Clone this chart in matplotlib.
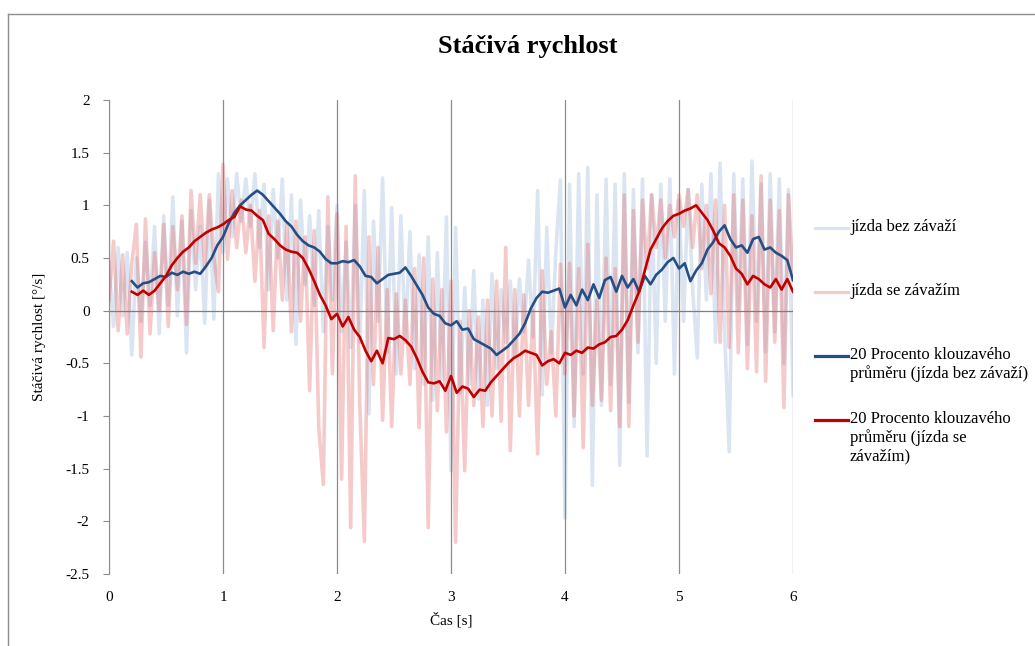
import numpy as np
import matplotlib
matplotlib.use('Agg')
import matplotlib.pyplot as plt
from matplotlib.lines import Line2D
from matplotlib.ticker import FuncFormatter

plt.rcParams['font.family'] = ['Liberation Serif', 'DejaVu Serif']
plt.rcParams['axes.unicode_minus'] = False

# raw yaw-rate samples, every 0.04 s (0 .. 6 s)
raw_bez = [
    0.45, -0.15, 0.60, -0.05, 0.55, -0.42, 0.50, -0.10, 0.65, 0.05,
    0.80, -0.22, 0.90, 0.05, 1.08, -0.05, 0.85, -0.40, 0.95, 0.20,
    0.80, -0.12, 1.05, -0.08, 1.30, 0.55, 1.25, 0.70, 1.30, 0.85,
    1.25, 0.80, 1.30, 0.60, 1.20, 0.20, 1.15, 0.50, 1.25, 0.10,
    1.10, -0.32, 1.05, 0.25, 0.90, 0.05, 0.95, -0.20, 0.80, 0.10,
    1.00, -0.20, 0.65, -0.35, 1.00, -0.30, 1.14, -0.98, 0.85, -0.10,
    1.26, -0.40, 0.98, -0.60, 0.90, -0.30, 0.75, -0.55, 0.53, -0.70,
    0.70, -0.85, 0.55, -0.65, 0.89, -1.52, 0.79, -0.78, 0.22, -0.70,
    0.38, -0.84, 0.10, -0.90, 0.35, -0.55, 0.20, -0.30, 0.28, -0.45,
    0.30, -0.20, 0.48, -0.25, 1.14, -0.80, 0.79, -0.40, 0.57, 1.24,
    -1.97, 1.20, -1.10, 1.30, -0.60, 1.36, -1.66, 1.10, -0.90, 1.25,
    -0.70, 1.20, -1.47, 1.30, -0.87, 1.15, -0.40, 1.25, -1.38, 1.10,
    -0.50, 1.20, -0.10, 1.25, -0.60, 1.05, -0.10, 1.15, 0.20, -0.45,
    1.20, 0.10, 1.30, -0.30, 1.40, -0.20, -1.34, 1.30, 0.00, 1.25,
    -0.32, 1.42, -0.10, 1.20, -0.39, 1.30, -0.20, 1.25, -0.50, 1.15,
    -0.80,
]
raw_se = [
    0.10, 0.66, -0.19, 0.53, -0.22, 0.45, 0.82, -0.44, 0.87, -0.22,
    0.55, 0.00, 0.82, -0.15, 0.80, 0.20, 0.90, -0.13, 1.14, 0.45,
    1.10, 0.40, 1.10, 0.50, 0.18, 1.39, 0.49, 1.14, 0.60, 1.05,
    0.55, 1.00, 0.28, 0.95, -0.35, 0.90, -0.19, 0.85, 0.10, 0.82,
    -0.20, 0.85, -0.10, 0.70, -0.76, 0.76, -1.11, -1.65, 1.08, -0.60,
    0.92, -1.60, 0.80, -2.06, 1.28, -0.90, -2.19, 0.70, -0.70, 0.60,
    -1.04, 0.20, -1.10, 0.16, -0.60, 0.10, -0.70, 0.40, -1.11, 0.50,
    -2.06, 0.30, -0.95, 0.20, -1.15, 0.28, -2.20, -0.10, -1.52, 0.00,
    -0.90, -0.06, -1.10, 0.10, -1.00, 0.28, -1.05, 0.60, -1.33, 0.20,
    -1.00, 0.15, -0.90, 0.00, -1.36, 0.38, -0.70, -0.20, -1.00, 0.44,
    -0.60, 0.45, -1.00, 0.40, -1.30, 0.63, -0.90, 0.10, -0.85, 0.50,
    -0.95, 0.40, -1.10, 1.10, -1.10, 0.95, -0.30, 1.05, 0.40, 1.10,
    0.60, 1.05, 0.50, 1.00, 0.70, 1.10, 0.80, 1.15, 0.60, 1.10,
    0.40, 1.00, 0.16, 1.05, -0.30, 1.00, -0.35, 1.10, -0.40, 1.05,
    -0.55, 0.90, -0.58, 1.28, -0.67, 1.05, -0.30, 0.95, -0.92, 1.10,
    0.30,
]

# 20-point moving averages, read every 0.05 s (0.2 .. 6 s)
ma_bez = [
    0.28, 0.22, 0.26, 0.27, 0.30, 0.33, 0.32, 0.36, 0.34, 0.37,
    0.35, 0.37, 0.35, 0.42, 0.50, 0.62, 0.70, 0.83, 0.93, 1.00,
    1.05, 1.10, 1.14, 1.10, 1.04, 0.98, 0.92, 0.85, 0.80, 0.72,
    0.66, 0.62, 0.60, 0.56, 0.49, 0.45, 0.45, 0.47, 0.46, 0.48,
    0.42, 0.33, 0.32, 0.26, 0.30, 0.34, 0.35, 0.36, 0.41, 0.33,
    0.24, 0.15, 0.03, -0.03, -0.05, -0.12, -0.14, -0.10, -0.18, -0.17,
    -0.27, -0.30, -0.33, -0.36, -0.42, -0.38, -0.34, -0.28, -0.22, -0.12,
    0.02, 0.12, 0.18, 0.17, 0.19, 0.21, 0.03, 0.15, 0.05, 0.20,
    0.10, 0.25, 0.12, 0.29, 0.32, 0.18, 0.33, 0.22, 0.30, 0.18,
    0.33, 0.25, 0.34, 0.39, 0.46, 0.50, 0.40, 0.45, 0.28, 0.38,
    0.45, 0.58, 0.65, 0.75, 0.81, 0.68, 0.60, 0.62, 0.55, 0.68,
    0.70, 0.58, 0.60, 0.55, 0.52, 0.48, 0.29,
]
ma_se = [
    0.18, 0.15, 0.19, 0.15, 0.19, 0.26, 0.33, 0.43, 0.50, 0.56,
    0.60, 0.66, 0.70, 0.74, 0.77, 0.79, 0.82, 0.86, 0.89, 0.99,
    0.96, 0.95, 0.90, 0.86, 0.73, 0.68, 0.62, 0.58, 0.56, 0.55,
    0.50, 0.40, 0.28, 0.15, 0.05, -0.08, -0.03, -0.15, -0.06, -0.18,
    -0.25, -0.38, -0.48, -0.38, -0.50, -0.26, -0.27, -0.24, -0.28, -0.34,
    -0.45, -0.58, -0.68, -0.69, -0.67, -0.76, -0.62, -0.78, -0.72, -0.74,
    -0.82, -0.75, -0.76, -0.68, -0.62, -0.56, -0.50, -0.45, -0.42, -0.38,
    -0.40, -0.42, -0.52, -0.48, -0.46, -0.50, -0.40, -0.42, -0.38, -0.40,
    -0.35, -0.36, -0.32, -0.30, -0.25, -0.24, -0.18, -0.09, 0.05, 0.18,
    0.38, 0.58, 0.68, 0.78, 0.85, 0.90, 0.92, 0.95, 0.97, 1.00,
    0.93, 0.86, 0.76, 0.64, 0.60, 0.52, 0.40, 0.35, 0.25, 0.33,
    0.30, 0.25, 0.22, 0.30, 0.20, 0.30, 0.18,
]

t_raw = np.linspace(0, 6, len(raw_bez))
t_ma = np.linspace(0.2, 6, len(ma_bez))

labels = [
    'jízda bez závaží',
    'jízda se závažím',
    '20 Procento klouzavého\nprůměru (jízda bez závaží)',
    '20 Procento klouzavého\nprůměru (jízda se\nzávažím)',
]
colors = ['#4f81bd', '#e05050', '#254f84', '#c00000']
alphas = [0.2, 0.3, 1, 1]
widths = [2.6, 2.6, 1.9, 1.9]

fig = plt.figure(figsize=(10.35, 6.46), dpi=100)
ax = fig.add_axes([109 / 1035, 72 / 646, 684 / 1035, 474 / 646])

series = [(t_raw, raw_bez), (t_raw, raw_se), (t_ma, ma_bez), (t_ma, ma_se)]
for i, (tx, vy) in enumerate(series):
    ax.plot(tx, vy, color=colors[i], alpha=alphas[i], lw=widths[i],
            solid_joinstyle='round', zorder=2 + i)

ax.set_xlim(0, 6)
ax.set_ylim(-2.5, 2)
ax.set_xticks(range(7))
ax.set_yticks(np.arange(-2.5, 2.01, 0.5))
ax.yaxis.set_major_formatter(FuncFormatter(lambda v, p: '%g' % v))
ax.grid(axis='x', color='#8c8c8c', lw=0.9)
ax.axhline(0, color='#7f7f7f', lw=0.9, zorder=1)
ax.set_axisbelow(True)
for s in ['top', 'right', 'bottom']:
    ax.spines[s].set_visible(False)
ax.spines['left'].set_color('#8c8c8c')
ax.tick_params(axis='y', length=4, color='#8c8c8c', labelsize=11, pad=10)
ax.tick_params(axis='x', length=0, labelsize=11, pad=12)

ax.set_xlabel('Čas [s]', fontsize=11, labelpad=6)
ax.set_ylabel('Stáčivá rychlost [°/s]', fontsize=11, labelpad=14)
fig.text(0.51, 1 - 47 / 646, 'Stáčivá rychlost', ha='center', va='center',
         fontsize=19, fontweight='bold')

# legend drawn by hand so the lines sit on the first text row like Excel
leg_y = [228, 292, 356, 420]
for i, (lab, y) in enumerate(zip(labels, leg_y)):
    fy = 1 - y / 646
    fig.add_artist(Line2D([815 / 1035, 848 / 1035], [fy, fy], color=colors[i],
                          alpha=alphas[i], lw=2.3, transform=fig.transFigure))
    fig.text(850 / 1035, fy + 9 / 646, lab, ha='left', va='top', fontsize=12,
             linespacing=1.2)

# chart frame
fig.add_artist(Line2D([8 / 1035, 8 / 1035], [0, 1 - 14 / 646], color='#8c8c8c',
                      lw=1, transform=fig.transFigure))
fig.add_artist(Line2D([8 / 1035, 1], [1 - 14 / 646, 1 - 14 / 646], color='#8c8c8c',
                      lw=1, transform=fig.transFigure))

fig.savefig('out.png', dpi=100)
